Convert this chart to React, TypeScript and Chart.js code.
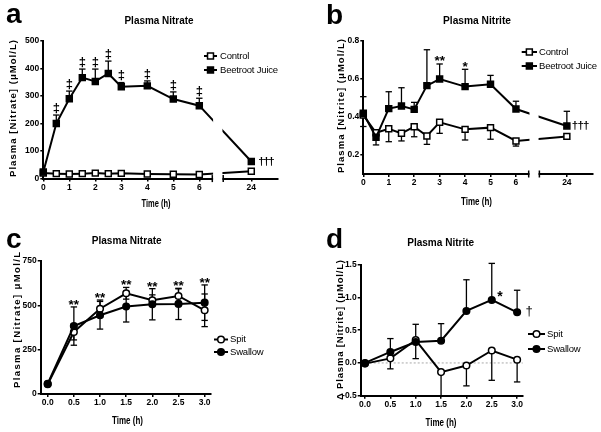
import React, { useEffect, useRef } from 'react';
import { Chart, registerables } from 'chart.js';

Chart.register(...registerables);

const FONT = '"Liberation Sans", Arial, Helvetica, sans-serif';
Chart.defaults.font.family = FONT;

// ---------------- Data ----------------
// Panels a & b (time course, 24 h drawn after an axis break)
const hoursAB = [0, 0.5, 1, 1.5, 2, 2.5, 3, 4, 5, 6, 24];
const tickHoursAB = [0, 1, 2, 3, 4, 5, 6, 24];

const nitrateTicksA = [0, 100, 200, 300, 400, 500];
const nitrateControlA = [20, 18, 17, 18, 20, 18, 19, 17, 16, 15, 27];
const nitrateBeetA = [24, 200, 290, 367, 353, 382, 334, 337, 289, 265, 62];
const nitrateBeetErrUpA = [0, 31, 28, 31, 45, 45, 15, 18, 26, 27, 0];
const nitrateMarksA = ['', '‡', '‡', '‡', '‡', '‡', '‡', '‡', '‡', '‡', '†††'];

const nitriteTicksB = [0.2, 0.4, 0.6, 0.8];
const nitriteControlB = [0.41, 0.317, 0.338, 0.314, 0.349, 0.3, 0.372, 0.335, 0.344, 0.274, 0.298];
const nitriteControlErrDownB = [0.06, 0, 0.068, 0.04, 0.053, 0.044, 0.058, 0.056, 0.061, 0.027, 0];
const nitriteBeetB = [0.42, 0.293, 0.444, 0.458, 0.44, 0.565, 0.6, 0.56, 0.572, 0.442, 0.353];
const nitriteBeetErrUpB = [0.087, 0, 0.089, 0.096, 0.037, 0.189, 0.079, 0.091, 0.047, 0.041, 0.077];
const nitriteBeetErrDownB = [0, 0.04, 0, 0, 0, 0, 0, 0, 0, 0, 0];
const nitriteMarksB = ['', '', '', '', '', '', '**', '*', '', '', '†††'];

// Panels c & d (spit vs swallow)
const hoursCD = [0, 0.5, 1, 1.5, 2, 2.5, 3];

const nitrateTicksC = [0, 250, 500, 750];
const nitrateSpitC = [55, 350, 481, 568, 529, 553, 472];
const nitrateSpitErrC = [0, 45, 49, 33, 30, 40, 92];
const nitrateSwallowC = [58, 383, 444, 493, 506, 508, 515];
const nitrateSwallowErrC = [0, 108, 78, 87, 88, 88, 100];
const nitrateMarksC = ['', '**', '**', '**', '**', '**', '**'];

const nitriteTicksD = [-0.5, 0, 0.5, 1, 1.5];
const nitriteSpitD = [-0.01, 0.07, 0.35, -0.14, -0.04, 0.19, 0.05];
const nitriteSpitErrDownD = [0, 0.16, 0.284, 0.36, 0.31, 0.455, 0.34];
const nitriteSwallowD = [0, 0.168, 0.32, 0.34, 0.794, 0.962, 0.773];
const nitriteSwallowErrUpD = [0, 0.204, 0.27, 0.26, 0.476, 0.558, 0.337];
const nitriteMarksD = ['', '', '', '', '', '*', '†'];

// 24 h is drawn at axis position 8, after the break (6.5 – 6.92)
const breakPos = (h: number) => (h > 6 ? 8 : h);

// ---------------- Types ----------------
type Series = {
  label: string;
  values: number[];
  errUp?: number[];
  errDown?: number[];
  filled: boolean;
  point: 'rect' | 'circle';
  radius: number;
};
type Mark = {
  index: number;
  text: string;
  anchor: 'top' | 'point';
  series: number;
  dx: number;
  dy: number;
  size: number;
  bold?: boolean;
  align?: 'left' | 'center';
  spacing?: number;
};
interface Panel {
  box: { left: number; top: number; width: number; height: number };
  area: { left: number; right: number; top: number; bottom: number };
  x: { min: number; max: number; ticks: number[]; labels: string[] };
  y: { min: number; max: number; ticks: number[]; labels: string[] };
  xs: number[];
  series: Series[];
  legendOrder: number[];
  legend: { x1: number; x2: number; tx: number; ys: number[] };
  marks: Mark[];
  letter: { text: string; x: number; y: number };
  title: { text: string; x: number; y: number; w: number };
  yTitle: { text: string; x: number; y: number; len: number };
  xTitle: { text: string; x: number; y: number; w: number };
  brk?: [number, number];
  zero?: boolean;
}

const marksFrom = (texts: string[], make: (i: number, t: string) => Mark | null): Mark[] =>
  texts.map((t, i) => (t ? make(i, t) : null)).filter((m): m is Mark => m !== null);

const SQ = 4.2;
const CI = 3.3;

// ---------------- Panels ----------------
const panelA: Panel = {
  box: { left: 0, top: 0, width: 300, height: 215 },
  area: { left: 43.3, right: 277.3, top: 41, bottom: 178.6 },
  x: { min: 0, max: 9, ticks: tickHoursAB.map(breakPos), labels: tickHoursAB.map(String) },
  y: { min: 0, max: 500, ticks: nitrateTicksA, labels: nitrateTicksA.map(String) },
  xs: hoursAB.map(breakPos),
  series: [
    { label: 'Beetroot Juice', values: nitrateBeetA, errUp: nitrateBeetErrUpA, filled: true, point: 'rect', radius: SQ },
    { label: 'Control', values: nitrateControlA, filled: false, point: 'rect', radius: SQ },
  ],
  legendOrder: [1, 0],
  legend: { x1: 204, x2: 217, tx: 220, ys: [56, 70] },
  marks: marksFrom(nitrateMarksA, (i, t) =>
    t === '‡'
      ? { index: i, text: t, anchor: 'top', series: 0, dx: 0, dy: -3.4, size: 13, bold: true }
      : { index: i, text: t, anchor: 'point', series: 0, dx: 7, dy: 3.5, size: 11.5, bold: true, align: 'left', spacing: -1.4 }
  ),
  letter: { text: 'a', x: 6, y: 23 },
  title: { text: 'Plasma Nitrate', x: 159, y: 21, w: 69 },
  yTitle: { text: 'Plasma [Nitrate] (μMol/L)', x: 13, y: 108.5, len: 137 },
  xTitle: { text: 'Time (h)', x: 156, y: 204, w: 29 },
  brk: [6.5, 6.92],
};

const panelB: Panel = {
  box: { left: 300, top: 0, width: 301, height: 215 },
  area: { left: 63.3, right: 292.3, top: 41, bottom: 174 },
  x: { min: 0, max: 9, ticks: tickHoursAB.map(breakPos), labels: tickHoursAB.map(String) },
  y: { min: 0.1, max: 0.8, ticks: nitriteTicksB, labels: nitriteTicksB.map((v) => v.toFixed(1)) },
  xs: hoursAB.map(breakPos),
  series: [
    { label: 'Beetroot Juice', values: nitriteBeetB, errUp: nitriteBeetErrUpB, errDown: nitriteBeetErrDownB, filled: true, point: 'rect', radius: SQ },
    { label: 'Control', values: nitriteControlB, errDown: nitriteControlErrDownB, filled: false, point: 'rect', radius: SQ },
  ],
  legendOrder: [1, 0],
  legend: { x1: 221.7, x2: 237, tx: 239, ys: [52, 66] },
  marks: marksFrom(nitriteMarksB, (i, t) =>
    t.startsWith('*')
      ? { index: i, text: t, anchor: 'top', series: 0, dx: 0, dy: 1.5, size: 13.5, bold: true }
      : { index: i, text: t, anchor: 'point', series: 0, dx: 5, dy: 3.5, size: 11.5, bold: true, align: 'left', spacing: -0.8 }
  ),
  letter: { text: 'b', x: 26, y: 24 },
  title: { text: 'Plasma Nitrite', x: 177, y: 20.7, w: 68 },
  yTitle: { text: 'Plasma [Nitrite] (μMol/L)', x: 41.5, y: 106, len: 134 },
  xTitle: { text: 'Time (h)', x: 176.5, y: 201.7, w: 31 },
  brk: [6.5, 6.92],
};

const panelC: Panel = {
  box: { left: 0, top: 215, width: 300, height: 217 },
  area: { left: 40.7, right: 210.4, top: 46, bottom: 179 },
  x: { min: -0.134, max: 3.11, ticks: hoursCD, labels: hoursCD.map((v) => v.toFixed(1)) },
  y: { min: 0, max: 750, ticks: nitrateTicksC, labels: nitrateTicksC.map(String) },
  xs: hoursCD,
  series: [
    { label: 'Swallow', values: nitrateSwallowC, errUp: nitrateSwallowErrC, errDown: nitrateSwallowErrC, filled: true, point: 'circle', radius: CI },
    { label: 'Spit', values: nitrateSpitC, errUp: nitrateSpitErrC, errDown: nitrateSpitErrC, filled: false, point: 'circle', radius: CI },
  ],
  legendOrder: [1, 0],
  legend: { x1: 214, x2: 228, tx: 230, ys: [124.5, 137] },
  marks: marksFrom(nitrateMarksC, (i, t) => ({ index: i, text: t, anchor: 'top', series: -1, dx: 0, dy: 2, size: 13.5, bold: true })),
  letter: { text: 'c', x: 6, y: 33 },
  title: { text: 'Plasma Nitrate', x: 126.7, y: 26, w: 70 },
  yTitle: { text: 'Plasma [Nitrate] μMol/L', x: 17, y: 105, len: 136 },
  xTitle: { text: 'Time (h)', x: 127.5, y: 205.7, w: 31 },
};

const panelD: Panel = {
  box: { left: 300, top: 215, width: 301, height: 217 },
  area: { left: 60.7, right: 222.7, top: 49.7, bottom: 180.7 },
  x: { min: -0.085, max: 3.11, ticks: hoursCD, labels: hoursCD.map((v) => v.toFixed(1)) },
  y: { min: -0.5, max: 1.5, ticks: nitriteTicksD, labels: nitriteTicksD.map((v) => v.toFixed(1)) },
  xs: hoursCD,
  series: [
    { label: 'Swallow', values: nitriteSwallowD, errUp: nitriteSwallowErrUpD, filled: true, point: 'circle', radius: CI },
    { label: 'Spit', values: nitriteSpitD, errDown: nitriteSpitErrDownD, filled: false, point: 'circle', radius: CI },
  ],
  legendOrder: [1, 0],
  legend: { x1: 228, x2: 245, tx: 247, ys: [119, 134] },
  marks: marksFrom(nitriteMarksD, (i, t) =>
    t === '*'
      ? { index: i, text: t, anchor: 'point', series: 0, dx: 8.3, dy: 1.5, size: 14, bold: true }
      : { index: i, text: t, anchor: 'point', series: 0, dx: 12, dy: 2.6, size: 13 }
  ),
  letter: { text: 'd', x: 26, y: 33 },
  title: { text: 'Plasma Nitrite', x: 140.7, y: 28, w: 67 },
  yTitle: { text: 'Δ Plasma [Nitrite] (μMol/L)', x: 40, y: 115, len: 140 },
  xTitle: { text: 'Time (h)', x: 141, y: 208, w: 31 },
  zero: true,
};

const panels: Panel[] = [panelA, panelB, panelC, panelD];

// ---------------- Drawing helpers ----------------
function line(ctx: CanvasRenderingContext2D, x1: number, y1: number, x2: number, y2: number) {
  ctx.beginPath();
  ctx.moveTo(x1, y1);
  ctx.lineTo(x2, y2);
  ctx.stroke();
}

function drawText(
  ctx: CanvasRenderingContext2D,
  text: string,
  x: number,
  y: number,
  font: string,
  o: { align?: 'left' | 'center'; baseline?: CanvasTextBaseline; width?: number; len?: number; spacing?: number; rotate?: number } = {}
) {
  ctx.save();
  ctx.font = font;
  ctx.fillStyle = '#000';
  ctx.textAlign = 'left';
  ctx.textBaseline = o.baseline ?? 'middle';
  const anyCtx = ctx as any;
  const hasLS = 'letterSpacing' in anyCtx;
  if (hasLS) anyCtx.letterSpacing = '0px';
  const w0 = ctx.measureText(text).width;
  const n = Array.from(text).length;
  let spacing = o.spacing ?? 0;
  if (o.len && hasLS && n > 1) spacing = (o.len - w0) / (n - 1);
  if (hasLS) anyCtx.letterSpacing = spacing + 'px';
  const w = w0 + (hasLS ? spacing * (n - 1) : 0);
  ctx.translate(x, y);
  if (o.rotate) ctx.rotate(o.rotate);
  let sx = 1;
  if (o.width) sx = o.width / w;
  ctx.scale(sx, 1);
  const dx = (o.align ?? 'center') === 'center' ? -w / 2 : 0;
  ctx.fillText(text, dx, 0);
  ctx.restore();
}

function drawMarker(ctx: CanvasRenderingContext2D, s: Series, x: number, y: number) {
  ctx.save();
  ctx.fillStyle = s.filled ? '#000' : '#fff';
  ctx.strokeStyle = '#000';
  ctx.lineWidth = 1.5;
  ctx.beginPath();
  if (s.point === 'rect') {
    const h = Math.SQRT1_2 * s.radius;
    ctx.rect(x - h, y - h, 2 * h, 2 * h);
  } else {
    ctx.arc(x, y, s.radius, 0, Math.PI * 2);
  }
  ctx.fill();
  ctx.stroke();
  ctx.restore();
}

function decorPlugin(p: Panel) {
  return {
    id: 'panelDecor',
    beforeDatasetsDraw(chart: any) {
      const ctx: CanvasRenderingContext2D = chart.ctx;
      const xs = chart.scales.x;
      const ys = chart.scales.y;
      const a = chart.chartArea;
      ctx.save();
      if (p.zero) {
        ctx.strokeStyle = '#a8a8a8';
        ctx.lineWidth = 1;
        ctx.setLineDash([2, 2]);
        const y0 = ys.getPixelForValue(0);
        line(ctx, a.left + 1, y0, a.right, y0);
        ctx.setLineDash([]);
      }
      ctx.strokeStyle = '#000';
      ctx.lineWidth = 1.3;
      p.series.forEach((s) => {
        s.values.forEach((v, i) => {
          const x = xs.getPixelForValue(p.xs[i]);
          const y0 = ys.getPixelForValue(v);
          const bar = (to: number) => {
            const y1 = ys.getPixelForValue(to);
            line(ctx, x, y0, x, y1);
            line(ctx, x - 3.2, y1, x + 3.2, y1);
          };
          if (s.errUp && s.errUp[i]) bar(v + s.errUp[i]);
          if (s.errDown && s.errDown[i]) bar(v - s.errDown[i]);
        });
      });
      ctx.restore();
    },
    afterDatasetsDraw(chart: any) {
      if (!p.brk) return;
      const ctx: CanvasRenderingContext2D = chart.ctx;
      const xs = chart.scales.x;
      const a = chart.chartArea;
      const xa = xs.getPixelForValue(p.brk[0]);
      const xb = xs.getPixelForValue(p.brk[1]);
      ctx.save();
      ctx.fillStyle = '#fff';
      ctx.fillRect(xa + 0.8, a.top - 12, xb - xa - 1.6, a.bottom - a.top + 14);
      ctx.strokeStyle = '#000';
      ctx.lineWidth = 1.5;
      line(ctx, xa, a.bottom - 3.5, xa, a.bottom + 3.5);
      line(ctx, xb, a.bottom - 3.5, xb, a.bottom + 3.5);
      ctx.restore();
    },
    afterDraw(chart: any) {
      const ctx: CanvasRenderingContext2D = chart.ctx;
      const xs = chart.scales.x;
      const ys = chart.scales.y;
      // significance marks
      p.marks.forEach((m) => {
        const x = xs.getPixelForValue(p.xs[m.index]);
        let yv: number;
        if (m.anchor === 'top') {
          const list = m.series < 0 ? p.series : [p.series[m.series]];
          yv = Math.max(...list.map((s) => s.values[m.index] + (s.errUp ? s.errUp[m.index] : 0)));
        } else {
          yv = p.series[m.series].values[m.index];
        }
        const y = ys.getPixelForValue(yv);
        drawText(ctx, m.text, x + m.dx, y + m.dy, `${m.bold ? 'bold ' : ''}${m.size}px ${FONT}`, {
          align: m.align ?? 'center',
          baseline: 'alphabetic',
          spacing: m.spacing,
        });
      });
      // legend
      p.legendOrder.forEach((si, k) => {
        const s = p.series[si];
        const y = p.legend.ys[k];
        ctx.save();
        ctx.strokeStyle = '#000';
        ctx.lineWidth = 2;
        line(ctx, p.legend.x1, y, p.legend.x2, y);
        ctx.restore();
        drawMarker(ctx, s, (p.legend.x1 + p.legend.x2) / 2, y);
        drawText(ctx, s.label, p.legend.tx, y, `9.5px ${FONT}`, { align: 'left', spacing: -0.2 });
      });
      // titles
      drawText(ctx, p.letter.text, p.letter.x, p.letter.y, `bold 28px ${FONT}`, { align: 'left', baseline: 'alphabetic' });
      drawText(ctx, p.title.text, p.title.x, p.title.y, `bold 11px ${FONT}`, { width: p.title.w });
      drawText(ctx, p.xTitle.text, p.xTitle.x, p.xTitle.y, `bold 10.5px ${FONT}`, { width: p.xTitle.w });
      drawText(ctx, p.yTitle.text, p.yTitle.x, p.yTitle.y, `bold 9.5px ${FONT}`, { len: p.yTitle.len, rotate: -Math.PI / 2 });
    },
  };
}

function buildConfig(p: Panel): any {
  const tickFont = { family: FONT, size: 8.5, weight: 'bold' as const };
  const labelFor = (ticks: number[], labels: string[]) => (v: number) => {
    const k = ticks.findIndex((t) => Math.abs(t - v) < 1e-9);
    return k >= 0 ? labels[k] : '';
  };
  return {
    type: 'line',
    data: {
      datasets: p.series.map((s) => ({
        label: s.label,
        data: s.values.map((v, i) => ({ x: p.xs[i], y: v })),
        borderColor: '#000',
        borderWidth: 2,
        pointStyle: s.point,
        pointRadius: s.radius,
        pointBorderWidth: 1.5,
        pointBackgroundColor: s.filled ? '#000' : '#fff',
        pointBorderColor: '#000',
        fill: false,
        tension: 0,
        clip: false,
      })),
    },
    options: {
      responsive: false,
      animation: false,
      events: [],
      layout: {
        padding: { left: 0, top: p.area.top, right: p.box.width - p.area.right, bottom: 0 },
      },
      plugins: {
        legend: { display: false },
        title: { display: false },
        tooltip: { enabled: false },
      },
      scales: {
        x: {
          type: 'linear',
          min: p.x.min,
          max: p.x.max,
          afterBuildTicks: (sc: any) => {
            sc.ticks = p.x.ticks.map((v) => ({ value: v }));
          },
          afterFit: (sc: any) => {
            sc.height = p.box.height - p.area.bottom;
          },
          ticks: {
            callback: labelFor(p.x.ticks, p.x.labels),
            font: tickFont,
            color: '#000',
            padding: 1,
            maxRotation: 0,
            autoSkip: false,
          },
          grid: { drawOnChartArea: false, drawTicks: true, tickLength: 3, color: '#000', lineWidth: 1.5 },
          border: { display: true, color: '#000', width: 2 },
        },
        y: {
          type: 'linear',
          min: p.y.min,
          max: p.y.max,
          afterBuildTicks: (sc: any) => {
            sc.ticks = p.y.ticks.map((v) => ({ value: v }));
          },
          afterFit: (sc: any) => {
            sc.width = p.area.left;
          },
          ticks: {
            callback: labelFor(p.y.ticks, p.y.labels),
            font: tickFont,
            color: '#000',
            padding: 1,
            autoSkip: false,
          },
          grid: { drawOnChartArea: false, drawTicks: true, tickLength: 3, color: '#000', lineWidth: 1.5 },
          border: { display: true, color: '#000', width: 2 },
        },
      },
    },
    plugins: [decorPlugin(p)],
  };
}

function PanelChart({ p }: { p: Panel }) {
  const ref = useRef<HTMLCanvasElement>(null);
  useEffect(() => {
    const canvas = ref.current;
    if (!canvas) return;
    const chart = new Chart(canvas, buildConfig(p));
    return () => chart.destroy();
  }, [p]);
  return (
    <canvas
      ref={ref}
      width={p.box.width}
      height={p.box.height}
      style={{ position: 'absolute', left: p.box.left, top: p.box.top, width: p.box.width, height: p.box.height }}
    />
  );
}

export default function App() {
  return (
    <div style={{ position: 'absolute', left: 0, top: 0, width: 601, height: 432, background: '#fff', overflow: 'hidden' }}>
      {panels.map((p, i) => (
        <PanelChart key={i} p={p} />
      ))}
    </div>
  );
}
